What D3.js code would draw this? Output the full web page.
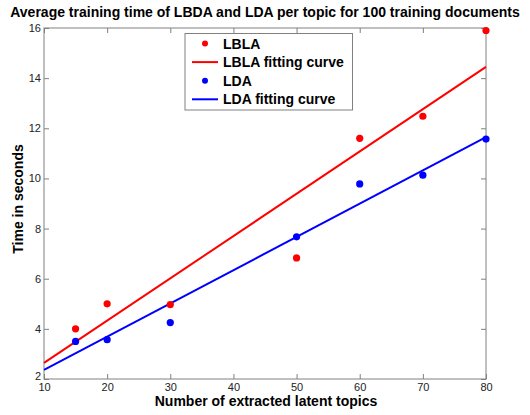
<!DOCTYPE html>
<html><head><meta charset="utf-8">
<script src="https://cdn.jsdelivr.net/npm/d3@7"></script>
<style>body{margin:0;background:#fff}svg{display:block}</style>
</head><body>
<script>
const topics = [15, 20, 30, 50, 60, 70, 80];
const lblaTimes = [4.0, 5.0, 4.97, 6.83, 11.6, 12.48, 15.9];
const ldaTimes = [3.5, 3.57, 4.25, 7.67, 9.78, 10.13, 11.57];
const fitX = [10, 80];
const lblaFit = [2.64, 14.45];
const ldaFit = [2.36, 11.65];
const xTicks = [10, 20, 30, 40, 50, 60, 70, 80];
const yTicks = [2, 4, 6, 8, 10, 12, 14, 16];
const legendLabels = ["LBLA", "LBLA fitting curve", "LDA", "LDA fitting curve"];
const RED = "#ff0000", BLUE = "#0000ff";

const W = 530, H = 415;
const svg = d3.select("body").append("svg").attr("width", W).attr("height", H)
  .style("font-family", "Arial, 'Liberation Sans', sans-serif");
const L = 44, R = 486, T = 28, B = 379;
const x = d3.scaleLinear().domain([10, 80]).range([L, R]);
const y = d3.scaleLinear().domain([2, 16]).range([B, T]);

const axColor = "#808080";
svg.append("rect").attr("x", L).attr("y", T).attr("width", R - L).attr("height", B - T)
  .attr("fill", "none").attr("stroke", axColor).attr("stroke-width", 1);

const tl = 5;
const xb = svg.append("g").attr("transform", `translate(0,${B})`)
  .call(d3.axisBottom(x).tickValues(xTicks).tickSizeInner(-tl).tickSizeOuter(0).tickPadding(4));
const xt = svg.append("g").attr("transform", `translate(0,${T})`)
  .call(d3.axisTop(x).tickValues(xTicks).tickSizeInner(-tl).tickSizeOuter(0).tickFormat(""));
const yl = svg.append("g").attr("transform", `translate(${L},0)`)
  .call(d3.axisLeft(y).tickValues(yTicks).tickSizeInner(-tl).tickSizeOuter(0).tickPadding(3));
const yr = svg.append("g").attr("transform", `translate(${R},0)`)
  .call(d3.axisRight(y).tickValues(yTicks).tickSizeInner(-tl).tickSizeOuter(0).tickFormat(""));
[xb, xt, yl, yr].forEach(g => {
  g.select(".domain").remove();
  g.selectAll(".tick line").attr("stroke", axColor);
  g.selectAll(".tick text").attr("fill", "#222").style("font-size", "11px")
    .style("font-family", "Arial, 'Liberation Sans', sans-serif");
});
// lift the lowest y label slightly so it clears the first x label
yl.selectAll(".tick text").filter(d => d === yTicks[0]).attr("dy", "0.02em");

const line = d3.line().x(d => x(d[0])).y(d => y(d[1]));
svg.append("path").datum(fitX.map((v, i) => [v, lblaFit[i]])).attr("d", line)
  .attr("fill", "none").attr("stroke", RED).attr("stroke-width", 2);
svg.append("path").datum(fitX.map((v, i) => [v, ldaFit[i]])).attr("d", line)
  .attr("fill", "none").attr("stroke", BLUE).attr("stroke-width", 2);

svg.append("g").selectAll("circle").data(topics).join("circle")
  .attr("cx", d => x(d)).attr("cy", (d, i) => y(lblaTimes[i])).attr("r", 3.6).attr("fill", RED);
svg.append("g").selectAll("circle").data(topics).join("circle")
  .attr("cx", d => x(d)).attr("cy", (d, i) => y(ldaTimes[i])).attr("r", 3.6).attr("fill", BLUE);

const lg = svg.append("g");
lg.append("rect").attr("x", 185).attr("y", 33.5).attr("width", 167.5).attr("height", 76.5)
  .attr("fill", "#fff").attr("stroke", axColor).attr("stroke-width", 1);
const legendColors = [RED, RED, BLUE, BLUE];
const legendKinds = ["dot", "line", "dot", "line"];
legendLabels.forEach((lab, i) => {
  const cy = 43.5 + i * 18.6;
  if (legendKinds[i] === "dot") {
    lg.append("circle").attr("cx", 205).attr("cy", cy).attr("r", 3).attr("fill", legendColors[i]);
  } else {
    lg.append("line").attr("x1", 192).attr("x2", 218).attr("y1", cy).attr("y2", cy)
      .attr("stroke", legendColors[i]).attr("stroke-width", 2);
  }
  lg.append("text").attr("x", 223).attr("y", cy).attr("dy", "0.36em")
    .style("font-size", "14px").style("font-weight", "bold").attr("fill", "#000").text(lab);
});

svg.append("text").attr("x", 265).attr("y", 17).attr("text-anchor", "middle")
  .style("font-size", "14px").style("font-weight", "bold")
  .text("Average training time of LBDA and LDA per topic for 100 training documents");
svg.append("text").attr("x", 266).attr("y", 406).attr("text-anchor", "middle")
  .style("font-size", "14px").style("font-weight", "bold")
  .text("Number of extracted latent topics");
svg.append("text").attr("transform", "translate(23,199) rotate(-90)").attr("text-anchor", "middle")
  .style("font-size", "14px").style("font-weight", "bold")
  .text("Time in seconds");
</script>
</body></html>
